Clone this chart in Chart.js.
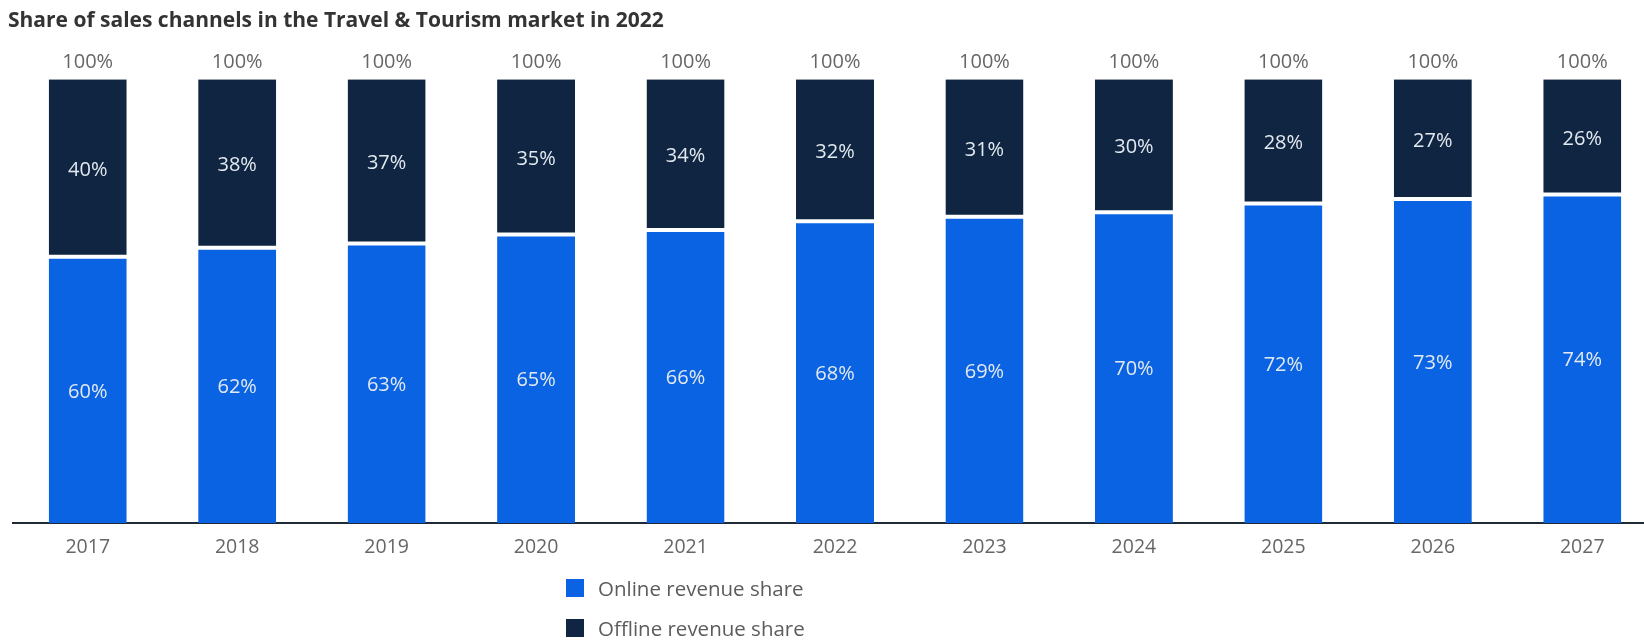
<!DOCTYPE html>
<html>
<head>
<meta charset="utf-8">
<script src="https://cdn.jsdelivr.net/npm/chart.js@4"></script>
<style>
  html, body { margin: 0; padding: 0; background: #fff; overflow: hidden; }
  #wrap { position: relative; width: 1657px; height: 640px; }
  #legend { position: absolute; left: 566px; top: 576px; font-family: "Open Sans", sans-serif; font-size: 20.5px; color: #5c5c5c; }
  #legend div { display: flex; align-items: center; height: 24px; margin-bottom: 16px; }
  #legend span.box { width: 18px; height: 18px; margin-right: 14px; display: inline-block; }
</style>
</head>
<body>
<div id="wrap">
  <canvas id="chart"></canvas>
  <div id="legend"></div>
</div>
<script>
const years = ["2017", "2018", "2019", "2020", "2021", "2022", "2023", "2024", "2025", "2026", "2027"];
const onlineShare = [60, 62, 63, 65, 66, 68, 69, 70, 72, 73, 74];
const offlineShare = [40, 38, 37, 35, 34, 32, 31, 30, 28, 27, 26];
const seriesNames = ["Online revenue share", "Offline revenue share"];
const seriesColors = ["#0a63e2", "#0f2541"];

// value labels inside each segment plus the column total above it
const barLabels = {
  id: "barLabels",
  afterDatasetsDraw(chart) {
    const ctx = chart.ctx;
    ctx.save();
    ctx.font = '20px "Open Sans"';
    ctx.textAlign = "center";
    ctx.textBaseline = "middle";
    ctx.fillStyle = "#e3e9f1";
    chart.data.datasets.forEach((ds, di) => {
      chart.getDatasetMeta(di).data.forEach((bar, i) => {
        ctx.fillText(ds.data[i] + "%", bar.x, (bar.y + bar.base) / 2 + 2);
      });
    });
    ctx.fillStyle = "#666";
    const last = chart.getDatasetMeta(chart.data.datasets.length - 1);
    last.data.forEach((bar, i) => {
      const total = chart.data.datasets.reduce((s, ds) => s + ds.data[i], 0);
      ctx.fillText(total + "%", bar.x, chart.scales.y.getPixelForValue(total) - 17);
    });
    ctx.restore();
  }
};

new Chart(document.getElementById("chart"), {
  type: "bar",
  data: {
    labels: years,
    datasets: [{
      label: seriesNames[0],
      data: onlineShare,
      backgroundColor: seriesColors[0],
      borderColor: "#fff",
      borderWidth: { top: 2, left: 0, right: 0, bottom: 0 },
      borderSkipped: false,
      barPercentage: 0.522,
      categoryPercentage: 1
    }, {
      label: seriesNames[1],
      data: offlineShare,
      backgroundColor: seriesColors[1],
      borderColor: "#fff",
      borderWidth: { top: 0, left: 0, right: 0, bottom: 2 },
      borderSkipped: false,
      barPercentage: 0.522,
      categoryPercentage: 1
    }]
  },
  options: {
    responsive: true,
    maintainAspectRatio: false,
    animation: false,
    layout: { padding: { left: 8, right: 0, top: 0, bottom: 0 } },
    plugins: {
      legend: { display: false },
      tooltip: { enabled: false },
      title: {
        display: true,
        text: "Share of sales channels in the Travel & Tourism market in 2022",
        align: "start",
        color: "#333",
        font: { family: "Open Sans", size: 21, weight: "bold", lineHeight: 1.2 },
        padding: { top: 8, bottom: 46 }
      }
    },
    scales: {
      x: {
        stacked: true,
        grid: { display: false, drawTicks: false },
        border: { display: true, color: "#1f2a36", width: 2 },
        ticks: { color: "#666", font: { family: "Open Sans", size: 19.5 }, padding: 13 },
        afterFit(s) { s.height = 117; }
      },
      y: {
        stacked: true,
        min: 0,
        max: 100,
        grid: { display: false, drawTicks: false },
        border: { display: false },
        ticks: { display: false },
        afterFit(s) { s.width = 5; }
      }
    }
  },
  plugins: [barLabels]
});

// legend stacked vertically below the axis
const legend = document.getElementById("legend");
seriesNames.forEach((name, i) => {
  const row = document.createElement("div");
  row.innerHTML = `<span class="box" style="background:${seriesColors[i]}"></span>${name}`;
  legend.appendChild(row);
});
</script>
</body>
</html>
